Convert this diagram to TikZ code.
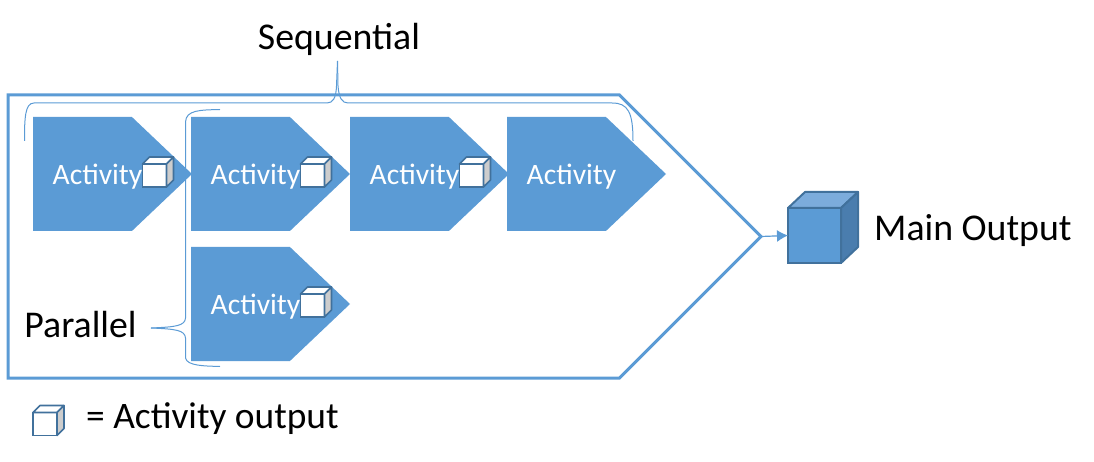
\documentclass[tikz,border=0pt]{standalone}
\usepackage{fontspec}
\setmainfont{Carlito}
\usetikzlibrary{shapes.symbols,arrows.meta,positioning}
\definecolor{actblue}{HTML}{5B9BD5}
\definecolor{cubeedge}{HTML}{41719C}
\definecolor{cubetop}{HTML}{7CACDC}
\definecolor{cubeside}{HTML}{4A7DAE}
\definecolor{cubegrey}{HTML}{CDCDCD}

\begin{document}
\begin{tikzpicture}[x=1pt, y=1pt, >={Latex[length=11pt,width=12pt]}]
    \tikzstyle{activity} = [shape=signal, signal to=east, signal from=nowhere, signal pointer angle=87, fill=actblue, minimum width=159pt, minimum height=114pt, inner sep=0pt, outer sep=0pt]
    \tikzstyle{frame}    = [shape=signal, signal to=east, signal from=nowhere, signal pointer angle=90, draw=actblue, line width=3pt, minimum width=753pt, minimum height=283pt, inner sep=0pt, outer sep=0pt]
    \tikzstyle{acttext}  = [text=white, font=\fontsize{29.6}{32}\selectfont, inner sep=0pt]
    \tikzstyle{bigtext}  = [text=black, font=\fontsize{37.8}{40}\selectfont, inner sep=0pt]
    \tikzstyle{cubefront} = [draw=cubeedge, line width=1.6pt, fill=white, minimum width=24pt, minimum height=23pt, inner sep=0pt, outer sep=0pt]
    \tikzstyle{brace}    = [draw=actblue, line width=1pt]
    \tikzset{smallcube/.pic={
        \node [cubefront] (-front) {};
        \draw [draw=cubeedge, line width=1.6pt, fill=white, line join=round] (-front.north west) -- ++(7,7) -- ++(24,0) -- (-front.north east) -- cycle;
        \draw [draw=cubeedge, line width=1.6pt, fill=cubegrey, line join=round] (-front.north east) -- ++(7,7) -- ++(0,-23) -- (-front.south east) -- cycle;
    }}

    \useasboundingbox (0,0) rectangle (1094,-462);

    % Outer frame
    \node [frame, anchor=west] (frame) at (8,-236.5) {};

    % Activities
    \node [activity, anchor=west] (a1) at (33,-174) {};
    \node [activity, right=-1pt of a1] (a2) {};
    \node [activity, right=0pt of a2] (a3) {};
    \node [activity, right=-2pt of a3] (a4) {};
    \node [activity, below=16pt of a2] (a5) {};

    % Activity labels and output cubes
    \foreach \n in {a1,a2,a3,a4,a5}
        \node [acttext] (\n text) at ([xshift=15pt,yshift=-3pt]\n.center) {Activity};
    \foreach \n in {a1,a2,a3,a5}
        \pic (\n cube) at ([xshift=72pt,yshift=-1.5pt]\n.center) {smallcube};

    % Main output
    \node [draw=cubeedge, line width=2pt, fill=actblue, minimum width=53pt, minimum height=55pt, inner sep=0pt, outer sep=0pt] (maincube) at (814.5,-235.5) {};
    \draw [draw=cubeedge, line width=2pt, fill=cubetop, line join=round] (maincube.north west) -- ++(17,16) -- ++(53,0) -- (maincube.north east) -- cycle;
    \draw [draw=cubeedge, line width=2pt, fill=cubeside, line join=round] (maincube.north east) -- ++(17,16) -- ++(0,-55) -- (maincube.south east) -- cycle;
    \node [bigtext, right=33pt of maincube.east, yshift=5pt] (mainlabel) {Main Output};
    \draw [->, draw=actblue, fill=actblue, line width=1.2pt] (frame.east) -- (maincube.west);

    % Labels
    \node [bigtext] (seq) at (339,-39) {Sequential};
    \node [bigtext] (par) at (80.5,-325) {Parallel};

    % Braces
    \coordinate (seqtip) at (337.5,-61);
    \coordinate (partip) at (151,-328);
    \draw [brace] (24.5,-141) .. controls (24.5,-118) and (25,-103) .. (34,-103) -- (327,-103) .. controls (333,-103) and (336,-98) .. (336.5,-86) -- (seqtip);
    \draw [brace] (seqtip) -- (338,-86) .. controls (339,-98) and (342,-103) .. (348,-103) -- (612,-103) .. controls (628,-103) and (633,-112) .. (633,-141);
    \draw [brace] (220,-109.5) .. controls (200,-110) and (186,-110) .. (185.5,-122) -- (185.5,-318) .. controls (185,-326) and (175,-327) .. (partip);
    \draw [brace] (partip) .. controls (175,-329) and (185,-330) .. (185.5,-338) -- (185.5,-358) .. controls (187,-366) and (205,-366) .. (220,-366.5);

    % Legend
    \pic (legendcube) at (45,-424) {smallcube};
    \node [bigtext, anchor=west, font=\fontsize{37.4}{40}\selectfont] (legend) at (86,-419) {= Activity output};
\end{tikzpicture}
\end{document}
